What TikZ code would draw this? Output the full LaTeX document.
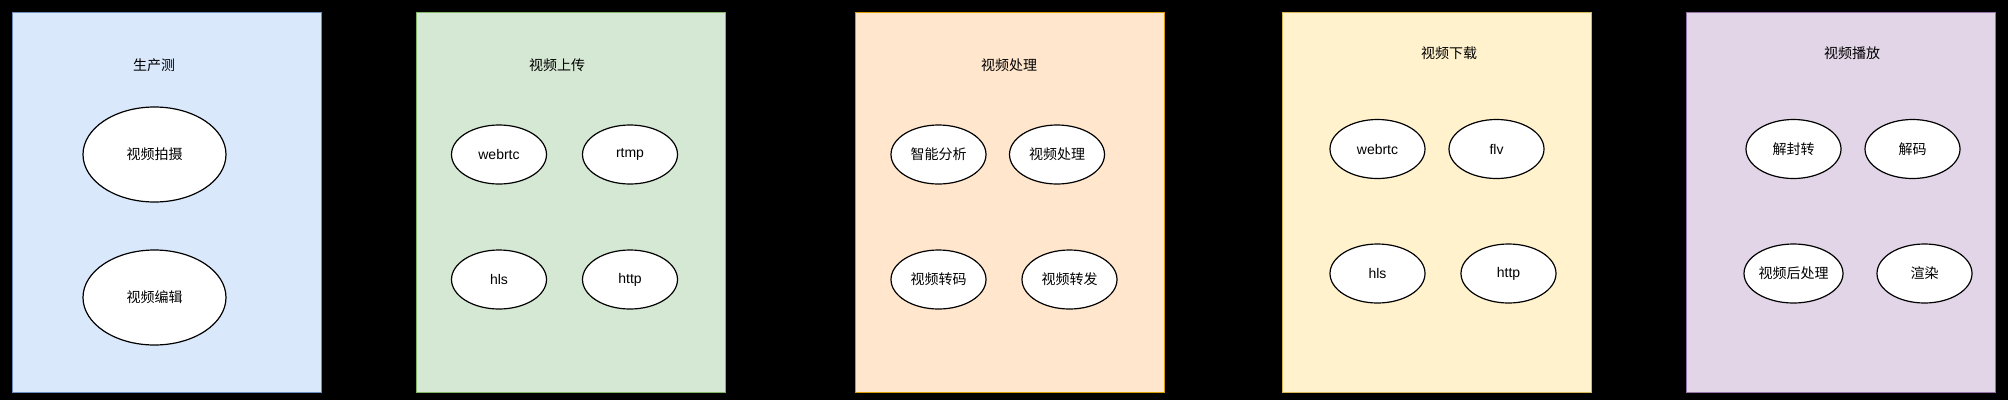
\documentclass[tikz,border=0pt]{standalone}
\usepackage{fontspec}
\setmainfont{Liberation Sans}
\newfontfamily\cjk{Noto Sans CJK SC}
\usetikzlibrary{shapes.geometric}
\definecolor{bfill}{HTML}{DAE8FC}\definecolor{bline}{HTML}{6C8EBF}
\definecolor{gfill}{HTML}{D5E8D4}\definecolor{gline}{HTML}{82B366}
\definecolor{ofill}{HTML}{FFE6CC}\definecolor{oline}{HTML}{D79B00}
\definecolor{yfill}{HTML}{FFF2CC}\definecolor{yline}{HTML}{D6B656}
\definecolor{pfill}{HTML}{E1D5E7}\definecolor{pline}{HTML}{9673A6}
\tikzset{
  panel/.style={draw, line width=1pt, minimum width=309pt, minimum height=380pt, inner sep=0pt, anchor=north west},
  ptitle/.style={font=\cjk\fontsize{14pt}{16pt}\selectfont, inner sep=0pt},
  oval/.style={ellipse, draw=black, line width=1.2pt, fill=white, inner sep=0pt, minimum width=95pt, minimum height=59pt, font=\fontsize{14pt}{16pt}\selectfont},
  bigoval/.style={oval, minimum width=143pt, minimum height=95pt},
  cjkoval/.style={oval, font=\cjk\fontsize{14pt}{16pt}\selectfont},
}
\begin{document}
\begin{tikzpicture}[x=1pt,y=-1pt]
\fill[black] (0,0) rectangle (2008,400);
\useasboundingbox (0,0) rectangle (2008,400);
% panels
\node[panel, fill=bfill, draw=bline] (p1) at (12,12) {};
\node[panel, fill=gfill, draw=gline] (p2) at (416,12) {};
\node[panel, fill=ofill, draw=oline] (p3) at (855,12) {};
\node[panel, fill=yfill, draw=yline] (p4) at (1282,12) {};
\node[panel, fill=pfill, draw=pline] (p5) at (1686,12) {};
% titles
\node[ptitle] (t1) at (154,65) {生产测};
\node[ptitle] (t2) at (557,65) {视频上传};
\node[ptitle] (t3) at (1009,65) {视频处理};
\node[ptitle] (t4) at (1449,53) {视频下载};
\node[ptitle] (t5) at (1852,53) {视频播放};
% panel 1
\node[bigoval, font=\cjk\fontsize{14pt}{16pt}\selectfont] (a1) at (154.5,154.5) {视频拍摄};
\node[bigoval, font=\cjk\fontsize{14pt}{16pt}\selectfont] (a2) at (154.5,297.5) {视频编辑};
% panel 2
\node[oval] (b1) at (499,154.5) {webrtc};
\node[oval] (b2) at (630,154.5) {rtmp};
\node[oval] (b3) at (499,279.5) {hls};
\node[oval] (b4) at (630,279.5) {http};
% panel 3
\node[cjkoval] (c1) at (938.5,154.5) {智能分析};
\node[cjkoval] (c2) at (1057,154.5) {视频处理};
\node[cjkoval] (c3) at (938.5,279.5) {视频转码};
\node[cjkoval] (c4) at (1069.5,279.5) {视频转发};
% panel 4
\node[oval] (d1) at (1377.5,149) {webrtc};
\node[oval] (d2) at (1496.5,149) {flv};
\node[oval] (d3) at (1377.5,273.5) {hls};
\node[oval] (d4) at (1508.5,273.5) {http};
% panel 5
\node[cjkoval] (e1) at (1793.5,149) {解封转};
\node[cjkoval] (e2) at (1912.5,149) {解码};
\node[cjkoval] (e3) at (1793.5,273.5) {视频后处理};
\node[cjkoval] (e4) at (1924.5,273.5) {渲染};
\end{tikzpicture}
\end{document}
